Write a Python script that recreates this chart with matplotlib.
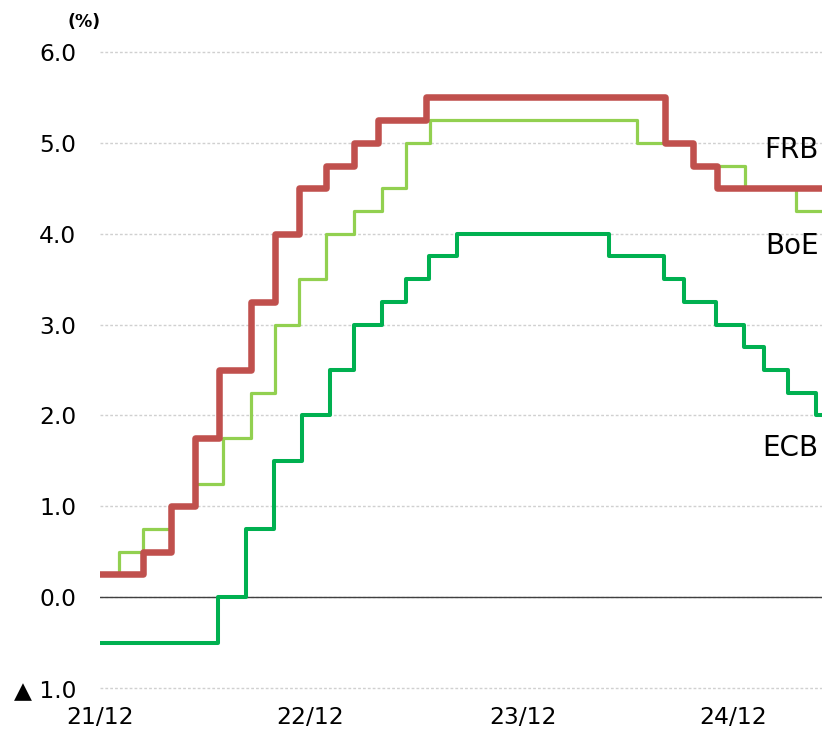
import matplotlib
matplotlib.use("Agg")
import matplotlib.pyplot as plt
import matplotlib.transforms as mtransforms
import pandas as pd

# policy rate step dates / levels (%)
frb_dates = ['2021-12-31', '2022-03-17', '2022-05-05', '2022-06-16', '2022-07-28',
             '2022-09-22', '2022-11-03', '2022-12-15', '2023-02-02', '2023-03-23',
             '2023-05-04', '2023-07-27', '2024-09-19', '2024-11-08', '2024-12-19']
frb_rates = [0.25, 0.50, 1.00, 1.75, 2.50, 3.25, 4.00, 4.50, 4.75, 5.00,
             5.25, 5.50, 5.00, 4.75, 4.50]

boe_dates = ['2021-12-31', '2022-02-03', '2022-03-17', '2022-05-05', '2022-06-16',
             '2022-08-04', '2022-09-22', '2022-11-03', '2022-12-15', '2023-02-02',
             '2023-03-23', '2023-05-11', '2023-06-22', '2023-08-03', '2024-08-01',
             '2024-11-07', '2025-02-06', '2025-05-08']
boe_rates = [0.25, 0.50, 0.75, 1.00, 1.25, 1.75, 2.25, 3.00, 3.50, 4.00,
             4.25, 4.50, 5.00, 5.25, 5.00, 4.75, 4.50, 4.25]

ecb_dates = ['2021-12-31', '2022-07-27', '2022-09-14', '2022-11-02', '2022-12-21',
             '2023-02-08', '2023-03-22', '2023-05-10', '2023-06-21', '2023-08-02',
             '2023-09-20', '2024-06-12', '2024-09-18', '2024-10-23', '2024-12-18',
             '2025-02-05', '2025-03-12', '2025-04-23', '2025-06-11']
ecb_rates = [-0.50, 0.00, 0.75, 1.50, 2.00, 2.50, 3.00, 3.25, 3.50, 3.75,
             4.00, 3.75, 3.50, 3.25, 3.00, 2.75, 2.50, 2.25, 2.00]

end_date = '2025-06-22'
tick_dates = ['2021-12-31', '2023-01-05', '2024-01-13', '2025-01-17']
tick_labels = ['21/12', '22/12', '23/12', '24/12']
y_ticks = [-1, 0, 1, 2, 3, 4, 5, 6]


def step_series(dates, rates):
    d = pd.to_datetime(dates + [end_date])
    r = rates + [rates[-1]]
    return d, r


fig = plt.figure(figsize=(8.22, 7.32), dpi=100)
ax = fig.add_axes([100 / 822, 44 / 732, 722 / 822, 636 / 732])

ax.yaxis.grid(True, color='#D0D0D0', lw=1.0, linestyle=(0, (2, 1.5)), zorder=0)
ax.xaxis.grid(False)
ax.set_axisbelow(True)
ax.axhline(0, color='#404040', lw=1.0, zorder=2)

d, r = step_series(ecb_dates, ecb_rates)
ax.plot(d, r, drawstyle='steps-post', color='#00B050', lw=2.9,
        solid_joinstyle='round', zorder=3)
d, r = step_series(boe_dates, boe_rates)
ax.plot(d, r, drawstyle='steps-post', color='#92D050', lw=2.3,
        solid_joinstyle='round', zorder=4)
d, r = step_series(frb_dates, frb_rates)
ax.plot(d, r, drawstyle='steps-post', color='#C0504D', lw=4.7,
        solid_joinstyle='round', zorder=5)

ax.set_xlim(pd.Timestamp('2021-12-31'), pd.Timestamp(end_date))
ax.set_ylim(-1, 6)

ax.set_yticks(y_ticks)
ax.set_yticklabels([('▲ %.1f' % abs(v)) if v < 0 else ('%.1f' % v) for v in y_ticks])
ax.set_xticks(pd.to_datetime(tick_dates))
ax.set_xticklabels(tick_labels)
ax.tick_params(axis='y', length=0, pad=17, labelsize=16.8)
ax.tick_params(axis='x', length=0, pad=13, labelsize=16.8)

for gl in ax.get_ygridlines():
    gl.set_clip_on(False)
for s in ax.spines.values():
    s.set_visible(False)

trans = mtransforms.blended_transform_factory(ax.transAxes, ax.transData)
ax.text(0.995, 4.92, 'FRB', transform=trans, ha='right', va='center', fontsize=20)
ax.text(0.995, 3.86, 'BoE', transform=trans, ha='right', va='center', fontsize=20)
ax.text(0.995, 1.64, 'ECB', transform=trans, ha='right', va='center', fontsize=20)

fig.text(84 / 822, 1 - 22 / 732, '(%)', ha='center', va='center',
         fontsize=12.5, fontweight='bold')

fig.savefig('out.png', dpi=100)
